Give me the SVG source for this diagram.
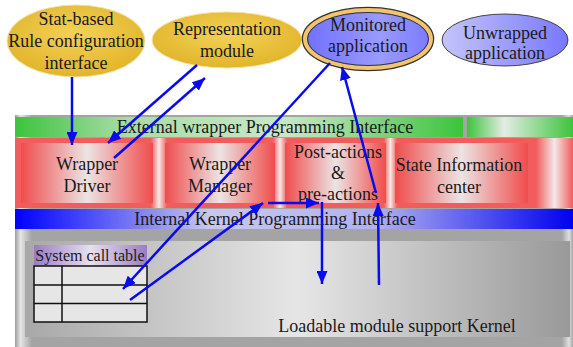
<svg xmlns="http://www.w3.org/2000/svg" width="573" height="347" viewBox="0 0 573 347">
  <style>
    .t { font-family: "Liberation Serif", "DejaVu Serif", "Times New Roman", serif; font-size: 18px; fill: #1a1a1a; text-anchor: middle; }
    .st { font-size: 16px; }
    .wire { fill: none; stroke: #0a0af0; stroke-width: 2.5; }
  </style>
  <defs>
    <marker id="head" markerUnits="userSpaceOnUse" markerWidth="14" markerHeight="11" refX="13" refY="5.5" orient="auto">
      <path d="M0,0 L13,5.5 L0,11 z" fill="#0a0af0"/>
    </marker>
    <radialGradient id="gold" cx="0.5" cy="0.4" r="0.6">
      <stop offset="0" stop-color="#f2d258"/>
      <stop offset="1" stop-color="#e2b42a"/>
    </radialGradient>
    <linearGradient id="blueEll" x1="0" y1="0" x2="1" y2="0">
      <stop offset="0" stop-color="#c4c4fa"/>
      <stop offset="1" stop-color="#7878ff"/>
    </linearGradient>
    <linearGradient id="blueMon" x1="0" y1="0" x2="1" y2="0">
      <stop offset="0" stop-color="#7070ff"/>
      <stop offset="0.6" stop-color="#9a9aff"/>
      <stop offset="1" stop-color="#7a7aff"/>
    </linearGradient>
    <linearGradient id="green1" x1="0" y1="0" x2="1" y2="0">
      <stop offset="0" stop-color="#3cc43c"/>
      <stop offset="0.25" stop-color="#a8dca8"/>
      <stop offset="0.6" stop-color="#c8e8c8"/>
      <stop offset="1" stop-color="#3cc43c"/>
    </linearGradient>
    <linearGradient id="green2" x1="0" y1="0" x2="1" y2="0">
      <stop offset="0" stop-color="#3cc43c"/>
      <stop offset="0.35" stop-color="#e4ece4"/>
      <stop offset="1" stop-color="#3cc43c"/>
    </linearGradient>
    <linearGradient id="redBox" x1="0" y1="0" x2="1" y2="0">
      <stop offset="0" stop-color="#f04c4c"/>
      <stop offset="0.5" stop-color="#ece4e4"/>
      <stop offset="1" stop-color="#f04c4c"/>
    </linearGradient>
    <linearGradient id="redGap" x1="0" y1="0" x2="1" y2="0">
      <stop offset="0" stop-color="#f25c5c"/>
      <stop offset="0.5" stop-color="#f4e8e8"/>
      <stop offset="1" stop-color="#f25c5c"/>
    </linearGradient>
    <linearGradient id="blueBar" x1="0" y1="0" x2="1" y2="0">
      <stop offset="0" stop-color="#0000ff"/>
      <stop offset="0.35" stop-color="#c8c8ee"/>
      <stop offset="0.65" stop-color="#b0b0f0"/>
      <stop offset="1" stop-color="#0000f0"/>
    </linearGradient>
    <linearGradient id="grayOuter" x1="0" y1="0" x2="1" y2="0">
      <stop offset="0" stop-color="#9c9c9c"/>
      <stop offset="0.01" stop-color="#e6e6e6"/>
      <stop offset="0.03" stop-color="#a4a4a4"/>
      <stop offset="0.98" stop-color="#a4a4a4"/>
      <stop offset="0.993" stop-color="#e0e0e0"/>
      <stop offset="1" stop-color="#a4a4a4"/>
    </linearGradient>
    <linearGradient id="grayInner" x1="0" y1="0" x2="1" y2="0">
      <stop offset="0" stop-color="#a8a8a8"/>
      <stop offset="0.5" stop-color="#e6e6e6"/>
      <stop offset="1" stop-color="#999999"/>
    </linearGradient>
    <linearGradient id="purple" x1="0" y1="0" x2="1" y2="0">
      <stop offset="0" stop-color="#9a7cc4"/>
      <stop offset="0.5" stop-color="#e6e0ee"/>
      <stop offset="1" stop-color="#9a7cc4"/>
    </linearGradient>
  </defs>

  <!-- kernel frame -->
  <g id="kernel">
    <rect x="15" y="115" width="558" height="232" fill="url(#grayOuter)"/>
    <rect x="25" y="241" width="545" height="96" fill="url(#grayInner)"/>
    <text class="t" x="397" y="332">Loadable module support Kernel</text>
  </g>

  <!-- external interface bar -->
  <g id="external-api">
    <rect x="15" y="117" width="448" height="20" fill="url(#green1)"/>
    <rect x="467" y="117" width="106" height="20" fill="url(#green2)"/>
    <text class="t" x="265" y="133">External wrapper Programming Interface</text>
  </g>

  <!-- wrapper layer band -->
  <g id="wrapper-band">
    <rect x="15" y="138" width="558" height="70" fill="#f25c5c"/>
    <rect x="151" y="138" width="16" height="70" fill="url(#redGap)"/>
    <rect x="273" y="138" width="14" height="70" fill="url(#redGap)"/>
    <rect x="384" y="138" width="13" height="70" fill="url(#redGap)"/>
    <rect x="536" y="138" width="37" height="70" fill="url(#redGap)"/>
  </g>

  <g id="wrapper-driver">
    <rect x="21" y="143" width="132" height="60" fill="url(#redBox)"/>
    <text class="t" x="87" y="170">Wrapper</text>
    <text class="t" x="87" y="192">Driver</text>
  </g>
  <g id="wrapper-manager">
    <rect x="165" y="143" width="110" height="60" fill="url(#redBox)"/>
    <text class="t" x="220" y="170">Wrapper</text>
    <text class="t" x="220" y="192">Manager</text>
  </g>
  <g id="post-pre-actions">
    <rect x="285" y="143" width="101" height="60" fill="url(#redBox)"/>
    <text class="t" x="338" y="158">Post-actions</text>
    <text class="t" x="338" y="179">&amp;</text>
    <text class="t" x="338" y="200">pre-actions</text>
  </g>
  <g id="state-info">
    <rect x="395" y="143" width="133" height="60" fill="url(#redBox)"/>
    <text class="t" x="459" y="171">State Information</text>
    <text class="t" x="459" y="193">center</text>
  </g>

  <!-- internal interface bar -->
  <g id="internal-api">
    <rect x="15" y="209" width="558" height="20" fill="url(#blueBar)"/>
    <text class="t" x="275" y="225">Internal Kernel Programming Interface</text>
  </g>

  <!-- system call table -->
  <g id="syscall-table">
    <rect x="34" y="245" width="113" height="21" fill="url(#purple)"/>
    <text class="t st" x="90" y="261">System call table</text>
    <rect x="34" y="266" width="113" height="56" fill="#e6e6e6" stroke="#111" stroke-width="1.5"/>
    <path d="M34,285 H147 M34,303.5 H147 M62,266 V322" stroke="#111" stroke-width="1.5" fill="none"/>
  </g>

  <!-- user-space modules -->
  <g id="rule-config">
    <ellipse cx="76" cy="41" rx="69" ry="36" fill="url(#gold)" stroke="#f2e2a2" stroke-width="1"/>
    <text class="t" x="76" y="25">Stat-based</text>
    <text class="t" x="76" y="47">Rule configuration</text>
    <text class="t" x="76" y="69">interface</text>
  </g>
  <g id="representation">
    <ellipse cx="227" cy="40" rx="75" ry="28" fill="url(#gold)" stroke="#f2e2a2" stroke-width="1"/>
    <text class="t" x="227" y="35">Representation</text>
    <text class="t" x="227" y="57">module</text>
  </g>
  <g id="monitored-app">
    <ellipse cx="368" cy="39" rx="63" ry="29" fill="none" stroke="#333" stroke-width="6.5"/>
    <ellipse cx="368" cy="39" rx="63" ry="29" fill="url(#blueMon)" stroke="#f4c46a" stroke-width="4"/>
    <ellipse cx="368" cy="39" rx="60.5" ry="26.5" fill="none" stroke="#333" stroke-width="1"/>
    <text class="t" x="368" y="31">Monitored</text>
    <text class="t" x="368" y="52">application</text>
  </g>
  <g id="unwrapped-app">
    <ellipse cx="505" cy="40" rx="63" ry="26" fill="url(#blueEll)" stroke="#444" stroke-width="1"/>
    <text class="t" x="505" y="39">Unwrapped</text>
    <text class="t" x="505" y="59">application</text>
  </g>

  <!-- connectors -->
  <g id="connectors">
    <path class="wire" d="M72,77 L72,145" marker-end="url(#head)"/>
    <path class="wire" d="M197,65 L108,143" marker-end="url(#head)"/>
    <path class="wire" d="M114,158 L205,78" marker-end="url(#head)"/>
    <path class="wire" d="M330,63 L123,289" marker-end="url(#head)"/>
    <path class="wire" d="M130,300 L263,203" marker-end="url(#head)"/>
    <path class="wire" d="M268,203 L319,203" marker-end="url(#head)"/>
    <path class="wire" d="M322,202 L322,284" marker-end="url(#head)"/>
    <path class="wire" d="M379,285 L378,203" marker-end="url(#head)"/>
    <path class="wire" d="M376,193 L342,67" marker-end="url(#head)"/>
  </g>
</svg>
